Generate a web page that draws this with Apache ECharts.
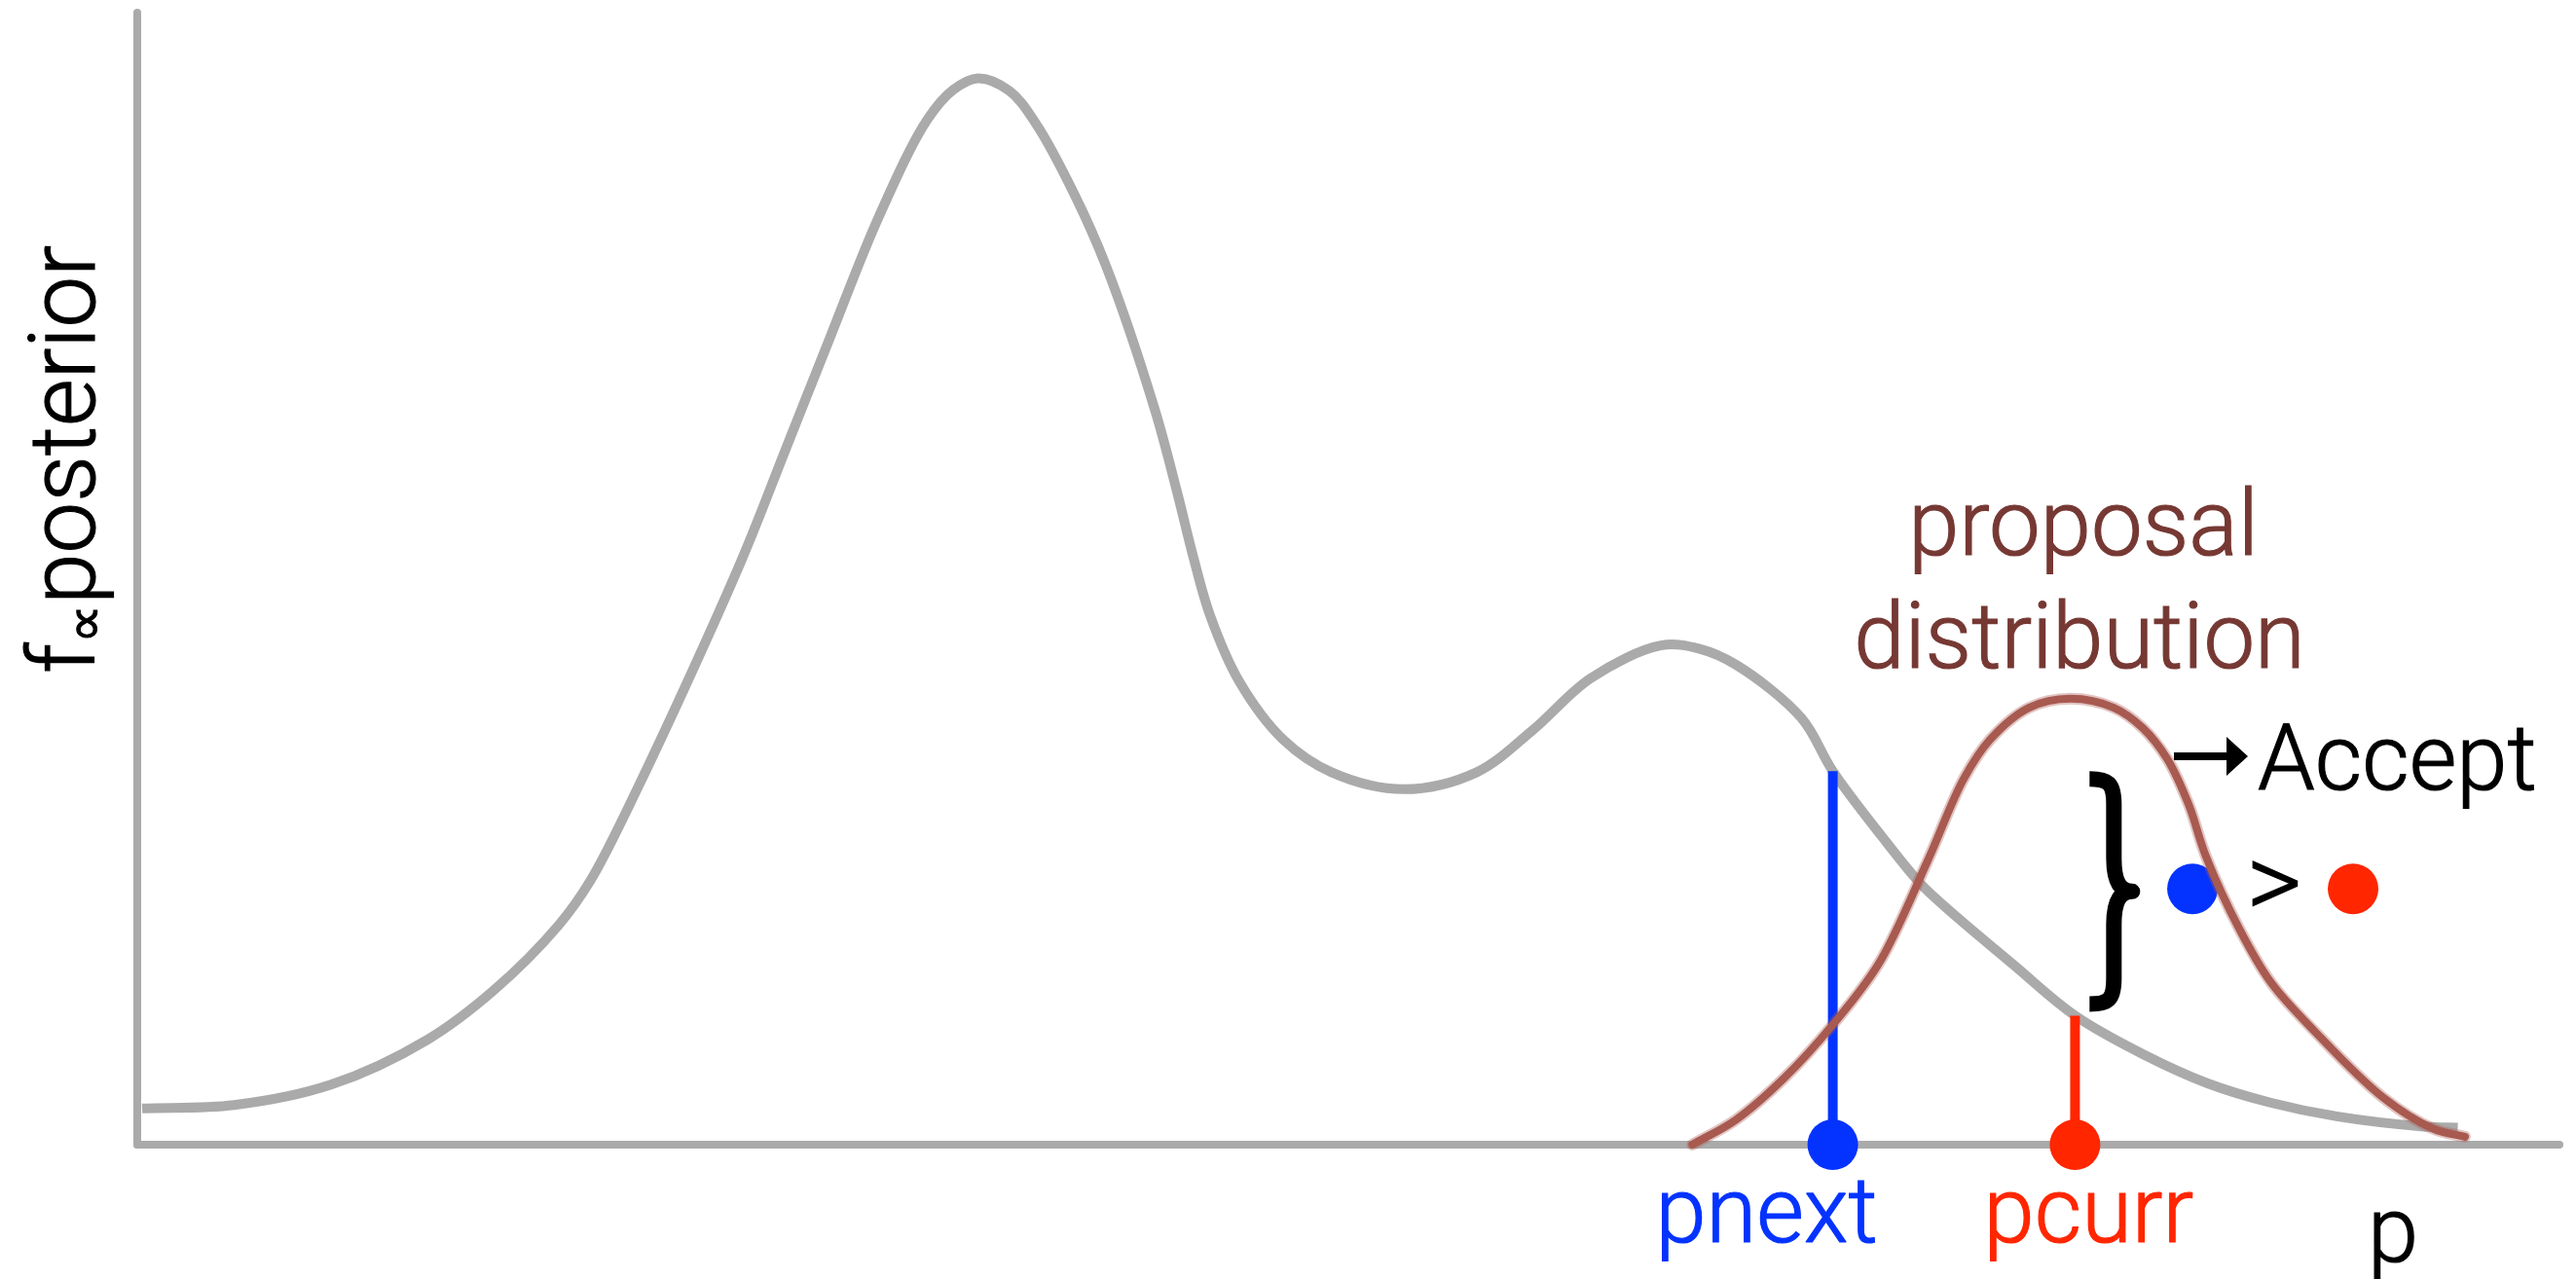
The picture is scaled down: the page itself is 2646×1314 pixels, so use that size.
<!DOCTYPE html>
<html>
<head>
<meta charset="utf-8">
<script src="https://cdn.jsdelivr.net/npm/echarts@6/dist/echarts.min.js"></script>
<style>
  html, body { margin: 0; padding: 0; background: #fff; }
  #chart { width: 2646px; height: 1314px; }
</style>
</head>
<body>
<div id="chart"></div>
<script>
// Unnormalised posterior f(p), sampled along p (axis runs 0..100)
const posteriorP = [0.2, 4.0, 8.0, 12.0, 14.7, 17.4, 18.7, 20.7, 24.9, 26.8, 28.6, 30.6, 32.6,
  33.7, 34.7, 36.0, 37.1, 38.7, 40.0, 42.0, 42.9, 43.6, 44.3, 45.5, 47.3, 49.3, 52.3, 55.3, 57.6, 60.0,
  62.9, 64.5, 66.0, 68.7, 70.0, 72.0, 73.6, 74.7, 77.4, 80.0, 82.8, 85.5, 88.1, 90.8, 94.4, 95.8];
const posteriorF = [3.2, 3.5, 5.3, 9.3, 13.6, 19.4, 23.3, 31.7, 51.4, 61.6, 71.3, 81.9, 90.5,
  93.2, 94.2, 93.1, 90.2, 83.9, 77.6, 65.0, 57.9, 51.9, 46.7, 40.9, 35.8, 32.9, 31.4, 32.9, 36.6, 41.2,
  44.1, 43.8, 42.4, 37.7, 33.0, 27.3, 23.1, 20.9, 16.0, 11.4, 8.0, 5.4, 3.7, 2.5, 1.6, 1.5];

// Proposal distribution q(p) centred on the current sample
const proposalP = [64.2, 66.0, 68.0, 70.0, 71.9, 73.9, 75.4, 76.5, 78.1, 79.8, 81.6, 82.8, 83.8, 84.7,
  85.4, 86.8, 88.1, 89.9, 92.7, 94.8, 96.1];
const proposalQ = [0.0, 2.2, 5.9, 10.6, 16.0, 25.0, 32.3, 35.8, 38.6, 39.4, 38.6, 36.8, 34.1, 30.0,
  25.5, 19.0, 14.3, 10.0, 4.2, 1.4, 0.7];

// Current and proposed samples, with the posterior height at each
const sampleNames = ['pnext', 'pcurr'];
const sampleP = [70, 80];
const sampleF = [33.0, 11.4];

// Comparison glyphs "● > ●" and the brace that spans the two heights
const comparePos = [[84.85, 22.6], [91.48, 22.6]];
const braceP = 80.6;

const GRAY = '#aaaaaa';
const BLUE = '#0433ff';
const RED = '#ff2600';
const BROWN_TEXT = '#763833';
const BROWN_LINE = '#a85a50';
const FONT = 'Roboto, "Open Sans", "Liberation Sans", sans-serif';
const SAMPLE_COLORS = [BLUE, RED];
const LABEL_SHIFT = [-68, 14];
const TEXT_WEIGHT_STROKE = 1.2;

// Centripetal Catmull-Rom spline through pixel points, emitted as SVG path data
function splinePath(pts) {
  const dist = (a, b) => Math.hypot(b[0] - a[0], b[1] - a[1]);
  let d = `M${pts[0][0]},${pts[0][1]}`;
  for (let i = 0; i < pts.length - 1; i++) {
    const p0 = pts[i - 1] || pts[i];
    const p1 = pts[i];
    const p2 = pts[i + 1];
    const p3 = pts[i + 2] || pts[i + 1];
    const t1 = Math.sqrt(dist(p0, p1));
    const t2 = Math.sqrt(dist(p1, p2));
    const t3 = Math.sqrt(dist(p2, p3));
    let c1, c2;
    if (t1 < 1e-6) {
      c1 = [p1[0] + (p2[0] - p1[0]) / 3, p1[1] + (p2[1] - p1[1]) / 3];
    } else {
      c1 = [0, 1].map(k => (t1 * t1 * p2[k] - t2 * t2 * p0[k] +
        (2 * t1 * t1 + 3 * t1 * t2 + t2 * t2) * p1[k]) / (3 * t1 * (t1 + t2)));
    }
    if (t3 < 1e-6) {
      c2 = [p2[0] + (p1[0] - p2[0]) / 3, p2[1] + (p1[1] - p2[1]) / 3];
    } else {
      c2 = [0, 1].map(k => (t3 * t3 * p1[k] - t2 * t2 * p3[k] +
        (2 * t3 * t3 + 3 * t3 * t2 + t2 * t2) * p2[k]) / (3 * t3 * (t3 + t2)));
    }
    d += ` C${c1[0]},${c1[1]} ${c2[0]},${c2[1]} ${p2[0]},${p2[1]}`;
  }
  return d;
}

// A smooth density curve drawn through the cartesian scales of the grid;
// each entry of `strokes` is one stroke pass over the same path
function curveSeries(name, xs, ys, z, strokes) {
  return {
    name,
    type: 'custom',
    z,
    silent: true,
    clip: false,
    data: [[xs[0], ys[0]]],
    renderItem(params, api) {
      const pathData = splinePath(xs.map((x, i) => api.coord([x, ys[i]])));
      return {
        type: 'group',
        children: strokes.map(s => ({
          type: 'path',
          shape: { pathData },
          style: Object.assign({ fill: 'none', lineJoin: 'round', lineCap: 'round' }, s)
        }))
      };
    }
  };
}

const stemSeries = sampleP.map((p, i) => ({
  type: 'line',
  z: 3,
  silent: true,
  symbol: 'none',
  data: [[p, 0], [p, sampleF[i]]],
  lineStyle: { color: SAMPLE_COLORS[i], width: 10, cap: 'butt' }
}));

const textStyle = (text, x, y, fill, align, size) => ({
  type: 'text', x, y, silent: true,
  style: {
    text, fill, stroke: fill, lineWidth: TEXT_WEIGHT_STROKE,
    fontSize: size || 94, fontFamily: FONT, fontWeight: 300, align, verticalAlign: 'middle'
  }
});

const chart = echarts.init(document.getElementById('chart'), null, { renderer: 'canvas' });

chart.setOption({
  animation: false,
  backgroundColor: '#ffffff',
  grid: { left: 141, right: 17, top: 13, bottom: 138 },
  xAxis: {
    type: 'value', min: 0, max: 100,
    axisLine: { show: true, onZero: false, lineStyle: { color: GRAY, width: 8 } },
    axisTick: { show: false }, axisLabel: { show: false }, splitLine: { show: false }
  },
  yAxis: {
    type: 'value', min: 0, max: 100,
    axisLine: { show: true, lineStyle: { color: GRAY, width: 8 } },
    axisTick: { show: false }, axisLabel: { show: false }, splitLine: { show: false }
  },
  series: [
    curveSeries('posterior', posteriorP, posteriorF, 2, [{ stroke: GRAY, lineWidth: 10, lineCap: 'butt' }]),
    ...stemSeries,
    {
      name: 'samples',
      type: 'scatter',
      z: 4,
      silent: true,
      symbolSize: 52,
      data: sampleP.map((p, i) => ({
        name: sampleNames[i],
        value: [p, 0],
        itemStyle: { color: SAMPLE_COLORS[i], opacity: 1 },
        label: {
          show: true, position: 'bottom', distance: 3,
          offset: [LABEL_SHIFT[i], 0],
          formatter: '{b}', color: SAMPLE_COLORS[i],
          textBorderColor: SAMPLE_COLORS[i], textBorderWidth: TEXT_WEIGHT_STROKE,
          fontSize: 94, fontFamily: FONT, fontWeight: 300
        }
      }))
    },
    {
      name: 'compare',
      type: 'scatter',
      z: 4,
      silent: true,
      symbolSize: 52,
      data: comparePos.map((c, i) => ({ value: c, itemStyle: { color: SAMPLE_COLORS[i], opacity: 1 } }))
    },
    curveSeries('proposal', proposalP, proposalQ, 5, [
      { stroke: 'rgba(168,90,80,0.35)', lineWidth: 12 },
      { stroke: BROWN_LINE, lineWidth: 8 }
    ]),
    {
      name: 'brace',
      type: 'custom',
      z: 6,
      silent: true,
      clip: false,
      data: [[braceP, sampleF[0], sampleF[1]]],
      renderItem(params, api) {
        const a = api.coord([api.value(0), api.value(1)]);
        const b = api.coord([api.value(0), api.value(2)]);
        const L = a[0], T = a[1] + 8, B = b[1] - 12, M = (T + B) / 2;
        const S = L + 25, P = L + 44;
        const d = `M${L},${T} C${S - 6},${T} ${S},${T + 4} ${S},${T + 26} ` +
          `L${S},${M - 34} C${S},${M - 10} ${S + 6},${M} ${P},${M} ` +
          `C${S + 6},${M} ${S},${M + 10} ${S},${M + 34} ` +
          `L${S},${B - 26} C${S},${B - 4} ${S - 6},${B} ${L},${B}`;
        return {
          type: 'path',
          shape: { pathData: d },
          style: { fill: 'none', stroke: '#000', lineWidth: 16, lineCap: 'butt', lineJoin: 'round' }
        };
      }
    }
  ],
  graphic: [
    {
      type: 'text', x: 73, y: 472, rotation: Math.PI / 2, silent: true,
      style: {
        text: '{a|f}{b|∝}{a|posterior}',
        align: 'center', verticalAlign: 'middle',
        rich: {
          a: { fontSize: 94, lineHeight: 94, fontFamily: FONT, fontWeight: 300, fill: '#000', stroke: '#000', lineWidth: TEXT_WEIGHT_STROKE },
          b: { fontSize: 56, lineHeight: 64, verticalAlign: 'bottom', fontFamily: FONT, fontWeight: 300, fill: '#000', stroke: '#000', lineWidth: 1 }
        }
      }
    },
    textStyle('proposal', 2140, 546, BROWN_TEXT, 'center'),
    textStyle('distribution', 2136, 662, BROWN_TEXT, 'center'),
    {
      type: 'line', silent: true,
      shape: { x1: 2233, y1: 777, x2: 2292, y2: 777 },
      style: { stroke: '#000', lineWidth: 8 }
    },
    {
      type: 'polygon', silent: true,
      shape: { points: [[2287, 757], [2309, 777], [2287, 797]] },
      style: { fill: '#000' }
    },
    textStyle('Accept', 2319, 787, '#000', 'left'),
    textStyle('>', 2336, 915, '#000', 'center', 110),
    textStyle('p', 2458, 1272, '#000', 'center')
  ]
});
</script>
</body>
</html>
